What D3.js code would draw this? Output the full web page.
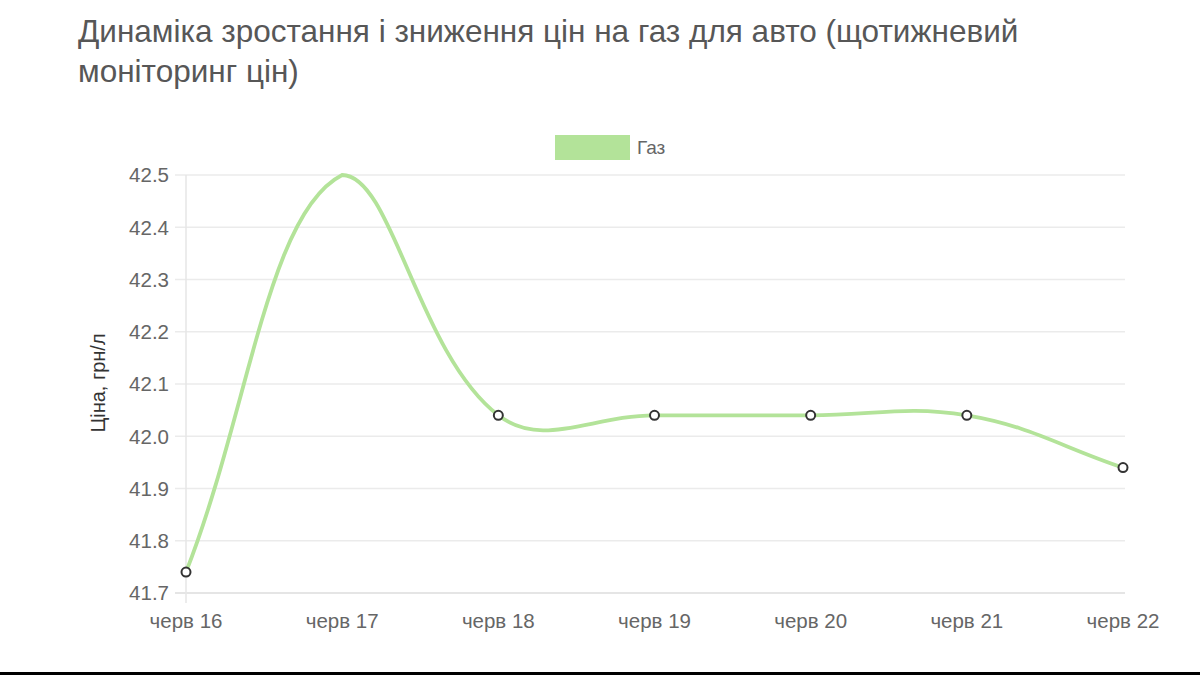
<!DOCTYPE html>
<html>
<head>
<meta charset="utf-8">
<script src="https://cdn.jsdelivr.net/npm/d3@7"></script>
<style>
  body { margin: 0; background: #fff; }
  svg { display: block; font-family: "Liberation Sans", Arial, sans-serif; }
</style>
</head>
<body>
<svg></svg>
<script>
const days = ['черв 16', 'черв 17', 'черв 18', 'черв 19', 'черв 20', 'черв 21', 'черв 22'];
const gasPrices = [41.74, 42.5, 42.04, 42.04, 42.04, 42.04, 41.94];
const yTicks = [41.7, 41.8, 41.9, 42.0, 42.1, 42.2, 42.3, 42.4, 42.5];
const titleLines = ['Динаміка зростання і зниження цін на газ для авто (щотижневий', 'моніторинг цін)'];
const seriesName = 'Газ';
const yLabel = 'Ціна, грн/л';

const [svgWidth, svgHeight] = [1200, 675];
const svg = d3.select('svg')
  .attr('width', svgWidth)
  .attr('height', svgHeight);

const area = {left: 186, right: 1123, top: 175, bottom: 593};
const lineColor = '#b3e399';

const x = d3.scalePoint()
  .domain(days)
  .range([area.left, area.right]);
const y = d3.scaleLinear()
  .domain([41.7, 42.5])
  .range([area.bottom, area.top]);

// title
svg.append('g')
  .selectAll('text')
  .data(titleLines)
  .join('text')
  .attr('x', 78)
  .attr('y', (d, i) => 42 + i * 40)
  .attr('fill', '#575757')
  .attr('font-size', 31.5)
  .text(d => d);

// legend
svg.append('rect')
  .attr('x', 555).attr('y', 135)
  .attr('width', 75).attr('height', 25)
  .attr('fill', lineColor);
svg.append('text')
  .attr('x', 637).attr('y', 154)
  .attr('fill', '#666')
  .attr('font-size', 19)
  .text(seriesName);

// grid
const grid = svg.append('g');
grid.selectAll('line.h')
  .data(yTicks)
  .join('line')
  .attr('class', 'h')
  .attr('x1', area.left - 11).attr('x2', area.right + 2)
  .attr('y1', d => y(d)).attr('y2', d => y(d))
  .attr('stroke', d => d === 41.7 ? '#ddd' : '#ebebeb')
  .attr('stroke-width', 1.5);
grid.append('line')
  .attr('x1', area.left).attr('x2', area.left)
  .attr('y1', area.top).attr('y2', area.bottom + 10)
  .attr('stroke', '#e6e6e6')
  .attr('stroke-width', 1.5);

// y tick labels
svg.append('g')
  .selectAll('text')
  .data(yTicks)
  .join('text')
  .attr('x', 169)
  .attr('y', d => y(d))
  .attr('dy', '0.36em')
  .attr('text-anchor', 'end')
  .attr('fill', '#666')
  .attr('font-size', 20.5)
  .text(d => d.toFixed(1));

// x tick labels
svg.append('g')
  .selectAll('text')
  .data(days)
  .join('text')
  .attr('x', d => x(d))
  .attr('y', 628)
  .attr('text-anchor', 'middle')
  .attr('fill', '#666')
  .attr('font-size', 20.5)
  .text(d => d);

// y axis title
svg.append('text')
  .attr('transform', `translate(105, ${(area.top + area.bottom) / 2 - 1}) rotate(-90)`)
  .attr('text-anchor', 'middle')
  .attr('fill', '#333')
  .attr('font-size', 20)
  .text(yLabel);

// spline like Chart.js (tension 0.4, control points capped to chart area)
const pts = days.map((d, i) => ({x: x(d), y: y(gasPrices[i]), v: gasPrices[i]}));
const tension = 0.4;
const clampX = v => Math.max(area.left, Math.min(area.right, v));
const clampY = v => Math.max(area.top, Math.min(area.bottom, v));
pts.forEach((p, i) => {
  const prev = pts[i - 1] || p;
  const next = pts[i + 1] || p;
  const d01 = Math.hypot(p.x - prev.x, p.y - prev.y);
  const d12 = Math.hypot(next.x - p.x, next.y - p.y);
  let s01 = d01 / (d01 + d12), s12 = d12 / (d01 + d12);
  if (isNaN(s01)) s01 = 0;
  if (isNaN(s12)) s12 = 0;
  const fa = tension * s01, fb = tension * s12;
  p.cpPrev = [clampX(p.x - fa * (next.x - prev.x)), clampY(p.y - fa * (next.y - prev.y))];
  p.cpNext = [clampX(p.x + fb * (next.x - prev.x)), clampY(p.y + fb * (next.y - prev.y))];
});
const path = d3.path();
path.moveTo(pts[0].x, pts[0].y);
for (let i = 1; i < pts.length; i++) {
  const a = pts[i - 1], b = pts[i];
  path.bezierCurveTo(a.cpNext[0], a.cpNext[1], b.cpPrev[0], b.cpPrev[1], b.x, b.y);
}
svg.append('path')
  .attr('d', path.toString())
  .attr('fill', 'none')
  .attr('stroke', lineColor)
  .attr('stroke-width', 3.8);

// markers (the one sitting on the top edge is not visible in the source)
svg.append('g')
  .selectAll('circle')
  .data(pts.filter(p => p.v < 42.5))
  .join('circle')
  .attr('cx', d => d.x)
  .attr('cy', d => d.y)
  .attr('r', 4.5)
  .attr('fill', '#fff')
  .attr('stroke', '#333')
  .attr('stroke-width', 2);

// dark band along the bottom edge
svg.append('rect')
  .attr('x', 0).attr('y', 672)
  .attr('width', svgWidth).attr('height', 3)
  .attr('fill', '#000');
</script>
</body>
</html>
